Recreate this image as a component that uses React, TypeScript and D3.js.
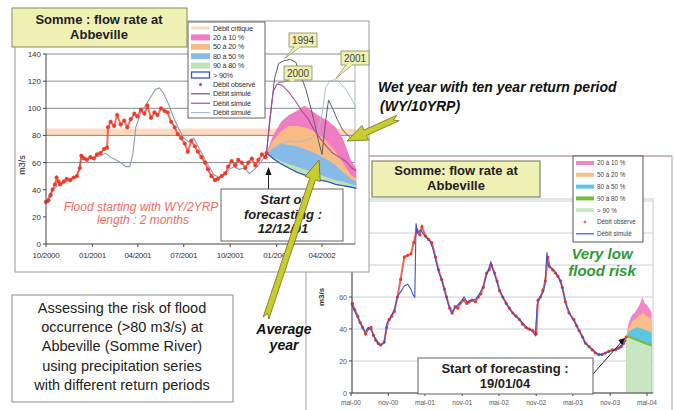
import React from 'react';
import * as d3 from 'd3';

const FONT = '"Liberation Sans", Arial, Helvetica, sans-serif';
const parse = d3.timeParse('%Y-%m-%d');

// ---------------- Left chart data ----------------
const leftXTicks = ['2000-10-01', '2001-01-01', '2001-04-01', '2001-07-01', '2001-10-01', '2002-01-01', '2002-04-01'];
const leftXLabels = ['10/2000', '01/2001', '04/2001', '07/2001', '10/2001', '01/2002', '04/2002'];
const leftYTicks = [0, 20, 40, 60, 80, 100, 120, 140];
const leftGrid = [60, 80, 100, 120, 140];
const criticalLow = 80;
const criticalHigh = 85;

const leftObsDates = [
  '2000-10-01', '2000-10-06', '2000-10-10', '2000-10-14', '2000-10-19', '2000-10-22', '2000-10-26', '2000-10-29',
  '2000-11-05', '2000-11-11', '2000-11-18', '2000-11-25', '2000-12-01', '2000-12-07', '2000-12-10', '2000-12-15',
  '2000-12-21', '2000-12-28', '2001-01-04', '2001-01-10', '2001-01-17', '2001-01-24', '2001-01-30', '2001-02-01',
  '2001-02-06', '2001-02-13', '2001-02-19', '2001-02-26', '2001-03-05', '2001-03-11', '2001-03-18', '2001-03-25',
  '2001-03-31', '2001-04-07', '2001-04-14', '2001-04-20', '2001-04-27', '2001-05-04', '2001-05-10', '2001-05-17',
  '2001-05-24', '2001-05-30', '2001-06-06', '2001-06-13', '2001-06-19', '2001-06-26', '2001-07-03', '2001-07-09',
  '2001-07-16', '2001-07-23', '2001-07-29', '2001-08-05', '2001-08-12', '2001-08-18', '2001-08-25', '2001-09-01',
  '2001-09-07', '2001-09-14', '2001-09-21', '2001-09-27', '2001-10-04', '2001-10-11', '2001-10-17', '2001-10-24',
  '2001-10-31', '2001-11-06', '2001-11-13', '2001-11-20', '2001-11-26', '2001-12-03', '2001-12-10', '2001-12-12',
];
const leftObsValues = [
  31, 32, 36, 40, 44, 49, 46, 44,
  46, 48, 47, 49, 50, 56, 65, 63,
  62, 64, 63, 66, 67, 70, 71, 86,
  90, 87, 95, 88, 91, 86, 92, 96,
  94, 99, 96, 102, 93, 97, 95, 100,
  98, 97, 90, 86, 81, 78, 74, 68,
  76, 72, 68, 64, 60, 55, 50, 47,
  48, 50, 52, 57, 61, 58, 62, 60,
  56, 60, 63, 58, 62, 66, 64, 67,
];

const leftSimDates = [
  '2000-10-01', '2000-10-11', '2000-10-21', '2000-10-31', '2000-11-10', '2000-11-20', '2000-11-30', '2000-12-06',
  '2000-12-10', '2000-12-20', '2001-01-04', '2001-01-17', '2001-01-27', '2001-02-06', '2001-02-16', '2001-02-26',
  '2001-03-08', '2001-03-16', '2001-03-22', '2001-03-28', '2001-04-06', '2001-04-16', '2001-04-26', '2001-05-06',
  '2001-05-14', '2001-05-22', '2001-06-01', '2001-06-11', '2001-06-21', '2001-07-01', '2001-07-11', '2001-07-21',
  '2001-07-31', '2001-08-10', '2001-08-20', '2001-08-30', '2001-09-09', '2001-09-19', '2001-09-29', '2001-10-09',
  '2001-10-19', '2001-10-29', '2001-11-08', '2001-11-18', '2001-11-28', '2001-12-06', '2001-12-12',
];
const leftSimValues = [
  31, 38, 42, 44, 46, 48, 50, 55,
  66, 63, 64, 65, 67, 64, 62, 60,
  57, 57, 66, 86, 96, 102, 108, 114,
  115, 111, 103, 93, 85, 78, 75, 78,
  71, 64, 57, 51, 49, 51, 55, 57,
  55, 56, 52, 55, 59, 63, 67,
];

// forecast (from 12/12/01)
const leftFcDates = [
  '2001-12-12', '2001-12-25', '2002-01-10', '2002-01-25', '2002-02-10', '2002-02-25', '2002-03-12',
  '2002-03-28', '2002-04-12', '2002-04-28', '2002-05-12', '2002-05-28', '2002-06-08',
];
const leftLow = [67, 63, 59, 56, 53, 51, 49, 47, 46, 44, 43, 42, 41];
const leftQ80 = [67, 64, 61, 59, 57, 55, 53, 51, 49, 47, 46, 44, 43];
const leftQ50 = [67, 71, 74, 73, 72, 70, 68, 65, 62, 58, 53, 48, 46];
const leftQ20 = [67, 76, 83, 87, 87, 86, 84, 80, 75, 68, 60, 51, 48];
const leftQ10 = [67, 80, 90, 95, 98, 102, 98, 94, 91, 86, 78, 62, 55];

const y1994Dates = [
  '2001-12-12', '2001-12-20', '2001-12-28', '2002-01-05', '2002-01-15', '2002-01-28', '2002-02-08', '2002-02-18',
  '2002-02-28', '2002-03-10', '2002-03-18', '2002-03-25', '2002-04-01', '2002-04-08', '2002-04-14', '2002-04-22',
  '2002-05-01', '2002-05-12', '2002-05-25', '2002-06-05',
];
const y1994Values = [67, 95, 122, 133, 135, 136, 134, 124, 114, 100, 88, 76, 66, 90, 106, 100, 92, 84, 79, 76];

const y2000Dates = [
  '2001-12-12', '2001-12-18', '2001-12-25', '2002-01-02', '2002-01-12', '2002-01-25', '2002-02-08', '2002-02-20',
  '2002-03-05', '2002-03-15', '2002-03-28', '2002-04-10', '2002-04-22', '2002-05-05', '2002-05-18', '2002-05-30', '2002-06-08',
];
const y2000Values = [67, 90, 112, 118, 117, 112, 105, 98, 92, 85, 78, 72, 67, 64, 61, 56, 54];

const y2001Dates = [
  '2001-12-12', '2001-12-25', '2002-01-10', '2002-01-25', '2002-02-10', '2002-02-25', '2002-03-12', '2002-03-22',
  '2002-04-01', '2002-04-08', '2002-04-16', '2002-04-26', '2002-05-06', '2002-05-18', '2002-05-28', '2002-06-08',
];
const y2001Values = [67, 70, 74, 76, 75, 76, 78, 82, 95, 115, 120, 121, 119, 114, 108, 100];

const leftLegendLabels = [
  'Débit critique', '20 à 10 %', '50 à 20 %', '80 à 50 %', '90 à 80 %', '> 90%',
  'Débit observé', 'Débit simulé', 'Débit simulé', 'Débit simulé',
];
const callouts = [
  { label: '1994', date: '2002-01-15', value: 136 },
  { label: '2000', date: '2002-01-02', value: 118 },
  { label: '2001', date: '2002-04-26', value: 121 },
];

// ---------------- Right chart data ----------------
const rightXTicks = [
  '2000-05-01', '2000-11-01', '2001-05-01', '2001-11-01', '2002-05-01',
  '2002-11-01', '2003-05-01', '2003-11-01', '2004-05-01',
];
const rightXLabels = ['mai-00', 'nov-00', 'mai-01', 'nov-01', 'mai-02', 'nov-02', 'mai-03', 'nov-03', 'mai-04'];
const rightYTicks = [0, 20, 40, 60, 80, 100, 120];

const rightObsDates = [
  '2000-05-08', '2000-05-20', '2000-06-03', '2000-06-15', '2000-06-27', '2000-07-12', '2000-07-25', '2000-08-07',
  '2000-08-20', '2000-09-01', '2000-09-13', '2000-09-25', '2000-10-12', '2000-10-24', '2000-11-06', '2000-11-18',
  '2000-12-01', '2000-12-16', '2001-01-01', '2001-01-19', '2001-02-04', '2001-02-21', '2001-03-07', '2001-03-22',
  '2001-04-05', '2001-04-16', '2001-05-04', '2001-05-19', '2001-06-04', '2001-06-22', '2001-07-07', '2001-07-22',
  '2001-08-05', '2001-08-16', '2001-09-01', '2001-09-12', '2001-09-27', '2001-10-10', '2001-10-22', '2001-11-08',
  '2001-11-24', '2001-12-06', '2001-12-19', '2002-01-05', '2002-01-19', '2002-02-01', '2002-02-13', '2002-03-01',
  '2002-03-14', '2002-03-25', '2002-04-10', '2002-04-22', '2002-05-04', '2002-05-20', '2002-06-06', '2002-06-22',
  '2002-07-09', '2002-07-25', '2002-08-10', '2002-08-26', '2002-09-12', '2002-09-28', '2002-10-15', '2002-11-01',
  '2002-11-10', '2002-11-22', '2002-12-04', '2002-12-16', '2002-12-28', '2003-01-06', '2003-01-22', '2003-02-04',
  '2003-02-16', '2003-03-01', '2003-03-10', '2003-03-25', '2003-04-12', '2003-05-06', '2003-05-20', '2003-06-01',
  '2003-06-18', '2003-07-04', '2003-07-20', '2003-08-04', '2003-08-20', '2003-09-06', '2003-09-22', '2003-10-09',
  '2003-10-25', '2003-11-12', '2003-11-28', '2003-12-13', '2003-12-26', '2004-01-07', '2004-01-19',
];
const rightObsValues = [
  56, 52, 48, 44, 41, 37, 40, 41,
  36, 33, 31, 30, 32, 41, 46, 48,
  51, 60, 71, 85, 86, 87, 94, 102,
  99, 104, 98, 96, 94, 85, 77, 71,
  65, 60, 53, 50, 54, 53, 56, 58,
  56, 57, 58, 57, 60, 62, 66, 75,
  77, 80, 75, 70, 64, 60, 56, 53,
  50, 48, 46, 43, 41, 40, 39, 37,
  58, 60, 64, 70, 85, 79, 77, 75,
  73, 70, 66, 57, 50, 46, 42, 39,
  35, 31, 29, 27, 25, 24, 24, 25,
  26, 27, 27, 28, 29, 31, 35,
];

const rightSimDates = [
  '2000-05-01', '2000-05-20', '2000-06-15', '2000-07-10', '2000-07-25', '2000-08-10', '2000-09-01', '2000-09-20',
  '2000-10-12', '2000-10-26', '2000-11-15', '2000-12-01', '2000-12-16', '2001-01-05', '2001-01-20', '2001-02-05',
  '2001-02-20', '2001-03-05', '2001-03-12', '2001-03-18', '2001-03-25', '2001-04-10', '2001-04-25', '2001-05-10',
  '2001-05-25', '2001-06-10', '2001-06-25', '2001-07-10', '2001-07-25', '2001-08-10', '2001-08-25', '2001-09-10',
  '2001-09-25', '2001-10-10', '2001-10-25', '2001-11-10', '2001-11-25', '2001-12-10', '2001-12-25', '2002-01-10',
  '2002-01-25', '2002-02-10', '2002-02-25', '2002-03-10', '2002-03-22', '2002-04-05', '2002-04-20', '2002-05-05',
  '2002-05-20', '2002-06-10', '2002-07-01', '2002-07-20', '2002-08-10', '2002-09-01', '2002-09-20', '2002-10-10',
  '2002-10-28', '2002-11-06', '2002-11-20', '2002-12-05', '2002-12-15', '2002-12-24', '2002-12-30', '2003-01-15',
  '2003-02-01', '2003-02-15', '2003-03-01', '2003-03-15', '2003-04-01', '2003-04-15', '2003-05-01', '2003-05-20',
  '2003-06-10', '2003-07-01', '2003-07-20', '2003-08-10', '2003-09-01', '2003-09-20', '2003-10-10', '2003-11-01',
  '2003-11-20', '2003-12-10', '2003-12-30', '2004-01-19',
];
const rightSimValues = [
  56, 51, 44, 38, 41, 39, 33, 30,
  31, 44, 48, 52, 60, 64, 67, 68,
  65, 61, 60, 106, 100, 102, 99, 97,
  95, 90, 82, 75, 70, 62, 55, 50,
  53, 55, 57, 60, 57, 58, 58, 59,
  62, 66, 72, 77, 82, 76, 70, 64,
  60, 55, 51, 48, 46, 43, 40, 39,
  36, 55, 60, 63, 68, 88, 80, 78,
  76, 73, 70, 63, 54, 50, 46, 42,
  37, 31, 29, 27, 24, 24, 25, 26,
  27, 28, 30, 33,
];

// forecast (from 19/01/04)
const rightFcDates = [
  '2004-01-19', '2004-01-30', '2004-02-10', '2004-02-20', '2004-03-01', '2004-03-10', '2004-03-20',
  '2004-04-01', '2004-04-10', '2004-04-20', '2004-05-01', '2004-05-12', '2004-05-24',
];
const rightLow = [35, 34.5, 34, 33.5, 33, 32.5, 32, 31.5, 31, 30.5, 30, 29.5, 29];
const rightQ80 = [35, 36, 35.5, 35, 34.5, 34, 33.5, 33, 32.5, 32, 31.5, 31, 30.5];
const rightQ50 = [35, 38, 39, 40, 40.5, 41, 41, 40.5, 40, 39.5, 39, 38.5, 38];
const rightQ20 = [35, 40, 43, 45, 46, 47, 48, 49, 50, 49, 48, 47, 46];
const rightQ10 = [35, 43, 47, 49, 50, 52, 54, 57, 60, 56, 55, 53, 50];

const rightLegendLabels = ['20 à 10 %', '50 à 20 %', '80 à 50 %', '90 à 80 %', '> 90 %', 'Débit observé', 'Débit simulé'];

const summaryLines = [
  'Assessing the risk of flood',
  'occurrence (>80 m3/s) at',
  'Abbeville (Somme River)',
  'using precipitation series',
  'with different return periods',
];

// ---------------- colours ----------------
const C = {
  pink: '#f07cc4',
  orange: '#f9bb84',
  blue: '#86bbe8',
  green: '#bfe2b4',
  low: '#3355c4',
  crit: '#fcd9bd',
  obs: '#ee3322',
  sim1994: '#5a6068',
  sim2000: '#a44c9c',
  sim2001: '#a9bdd2',
  simHist: '#8a9cb4',
  rPink: '#f287c6',
  rOrange: '#f8c088',
  rCyan: '#5cc6e2',
  rGreen: '#74bc3e',
  rLight: '#c9e6c2',
  rSim: '#3a55c8',
  titleFill: '#eef0b4',
  arrowFill: '#c9cc2e',
};

const zip = (dates: string[], vals: number[]) => dates.map((d, i) => ({ d: parse(d) as Date, v: vals[i] }));

function Arrow({ x1, y1, x2, y2 }: { x1: number; y1: number; x2: number; y2: number }) {
  const dx = x2 - x1, dy = y2 - y1;
  const L = Math.hypot(dx, dy);
  const ux = dx / L, uy = dy / L;
  const nx = -uy, ny = ux;
  const sw = 3, hw = 8, hl = 20;
  const bx = x2 - ux * hl, by = y2 - uy * hl;
  const pts = [
    [x1 + nx * sw, y1 + ny * sw],
    [x1 + ux * 5, y1 + uy * 5],
    [x1 - nx * sw, y1 - ny * sw],
    [bx - nx * sw, by - ny * sw],
    [bx - nx * hw, by - ny * hw],
    [x2, y2],
    [bx + nx * hw, by + ny * hw],
    [bx + nx * sw, by + ny * sw],
  ];
  return (
    <polygon
      points={pts.map((p) => p.join(',')).join(' ')}
      fill={C.arrowFill}
      stroke="#6e6e1c"
      strokeWidth={0.8}
      strokeLinejoin="round"
    />
  );
}

function LeftChart() {
  const x = d3.scaleTime().domain([parse('2000-10-01') as Date, parse('2002-04-01') as Date]).range([46, 322]);
  const y = d3.scaleLinear().domain([0, 140]).range([244, 54]);
  const L = 46, R = 355, T = 54, B = 244;

  const obs = zip(leftObsDates, leftObsValues);
  const sim = zip(leftSimDates, leftSimValues);
  const fcd = leftFcDates.map((d) => parse(d) as Date);
  const area = (top: number[], bot: number[]) =>
    d3.area<number>().x((_, i) => x(fcd[i])).y0((_, i) => y(bot[i])).y1((v) => y(v))(top) || '';
  const line = d3.line<{ d: Date; v: number }>().x((p) => x(p.d)).y((p) => y(p.v));
  const lowLine = d3.line<number>().x((_, i) => x(fcd[i])).y((v) => y(v))(leftLow) || '';

  const fcStart = x(parse('2001-12-12') as Date);

  return (
    <g>
      <rect x={15} y={21} width={354} height={251} fill="#fff" stroke="#9a9a9a" strokeWidth={1} />
      <rect x={L} y={T} width={R - L} height={B - T} fill="#fff" />
      <rect x={L} y={y(criticalHigh)} width={R - L} height={y(criticalLow) - y(criticalHigh)} fill={C.crit} />
      {leftGrid.map((g) => (
        <line key={g} x1={L} x2={R} y1={y(g)} y2={y(g)} stroke="#7c8088" strokeWidth={0.9} />
      ))}
      <line x1={R} x2={R} y1={T} y2={B} stroke="#a8b4c0" strokeWidth={1} />
      {/* forecast bands */}
      <path d={area(leftQ10, leftLow)} fill={C.pink} />
      <path d={area(leftQ20, leftLow)} fill={C.orange} />
      <path d={area(leftQ50, leftLow)} fill={C.blue} />
      <path d={area(leftQ80, leftLow)} fill={C.green} />
      <path d={lowLine} fill="none" stroke={C.low} strokeWidth={1.3} />
      {/* simulated years */}
      <path d={line(zip(y2001Dates, y2001Values)) || ''} fill="none" stroke={C.sim2001} strokeWidth={1} />
      <path d={line(zip(y1994Dates, y1994Values)) || ''} fill="none" stroke={C.sim1994} strokeWidth={1} />
      <path d={line(zip(y2000Dates, y2000Values)) || ''} fill="none" stroke={C.sim2000} strokeWidth={1.1} />
      {/* historical */}
      <path d={line(sim) || ''} fill="none" stroke={C.simHist} strokeWidth={1.1} />
      <path d={line(obs) || ''} fill="none" stroke={C.obs} strokeWidth={2} opacity={0.7} />
      {obs.map((p, i) => (
        <circle key={i} cx={x(p.d)} cy={y(p.v)} r={2.1} fill={C.obs} opacity={0.9} />
      ))}
      {/* axes */}
      <line x1={L} x2={L} y1={T} y2={B} stroke="#444" strokeWidth={1} />
      <line x1={L} x2={R} y1={B} y2={B} stroke="#444" strokeWidth={1} />
      {leftYTicks.map((t) => (
        <g key={t}>
          <line x1={L - 3} x2={L} y1={y(t)} y2={y(t)} stroke="#444" />
          <text x={L - 5} y={y(t) + 3} fontSize={8} textAnchor="end" fill="#333" fontFamily={FONT}>
            {t}
          </text>
        </g>
      ))}
      {leftXTicks.map((t, i) => (
        <g key={t}>
          <line x1={x(parse(t) as Date)} x2={x(parse(t) as Date)} y1={B} y2={B + 3} stroke="#444" />
          <text x={x(parse(t) as Date)} y={258} fontSize={8} textAnchor="middle" fill="#333" fontFamily={FONT} letterSpacing={-0.3}>
            {leftXLabels[i]}
          </text>
        </g>
      ))}
      <text transform="translate(25,165) rotate(-90)" fontSize={9} textAnchor="middle" fill="#222" fontFamily={FONT}>
        m3/s
      </text>
      <text x={141} y={211} fontSize={12} fontStyle="italic" textAnchor="middle" fill="#f06a5e" fontFamily={FONT}>
        Flood starting with WY/2YRP
      </text>
      <text x={143} y={224} fontSize={12} fontStyle="italic" textAnchor="middle" fill="#f06a5e" fontFamily={FONT}>
        length : 2 months
      </text>
      {/* legend */}
      <rect x={188} y={22} width={77} height={96} fill="#fff" stroke="#555" strokeWidth={0.9} />
      {leftLegendLabels.map((lab, i) => {
        const cy = 28 + i * 9.4;
        let sw: React.ReactNode = null;
        if (i === 0) sw = <line x1={191} x2={210} y1={cy} y2={cy} stroke={C.crit} strokeWidth={3} />;
        else if (i <= 4) {
          const col = [C.pink, C.orange, C.blue, C.green][i - 1];
          sw = <rect x={191} y={cy - 3} width={19} height={6} fill={col} />;
        } else if (i === 5) sw = <rect x={191.5} y={cy - 3} width={18} height={6} fill="#fff" stroke={C.low} strokeWidth={1.3} />;
        else if (i === 6) sw = <circle cx={200.5} cy={cy} r={1.5} fill={C.obs} />;
        else {
          const col = [C.sim1994, C.sim2000, C.sim2001][i - 7];
          sw = <line x1={191} x2={210} y1={cy} y2={cy} stroke={col} strokeWidth={1.2} />;
        }
        return (
          <g key={i}>
            {sw}
            <text x={213} y={cy + 2.6} fontSize={7.3} fill="#333" fontFamily={FONT} letterSpacing={-0.2}>
              {lab}
            </text>
          </g>
        );
      })}
      {/* callouts */}
      {callouts.map((c) => {
        const boxes: Record<string, { bx: number; by: number }> = {
          '1994': { bx: 289, by: 33 },
          '2000': { bx: 284, by: 66 },
          '2001': { bx: 341, by: 51 },
        };
        const b = boxes[c.label];
        const px = x(parse(c.date) as Date);
        const py = y(c.value);
        return (
          <g key={c.label}>
            <path
              d={`M${b.bx + 5},${b.by + 14} L${px + 1},${py - 1} L${b.bx + 11},${b.by + 14} Z`}
              fill={C.titleFill}
              stroke="#888866"
              strokeWidth={0.7}
            />
            <rect x={b.bx} y={b.by} width={28} height={14} fill={C.titleFill} stroke="#888866" strokeWidth={0.8} />
            <rect x={b.bx + 5.5} y={b.by + 13} width={5} height={2} fill={C.titleFill} />
            <text x={b.bx + 14} y={b.by + 10.5} fontSize={10} textAnchor="middle" fill="#444" fontFamily={FONT}>
              {c.label}
            </text>
          </g>
        );
      })}
      {/* start of forecasting */}
      <line x1={fcStart + 2} x2={fcStart + 2} y1={189} y2={172} stroke="#223" strokeWidth={1} />
      <path d={`M${fcStart + 2},${167} L${fcStart - 1},${175} L${fcStart + 5},${175} Z`} fill="#111" />
      <rect x={221} y={189} width={122} height={52} fill="#fff" stroke="#666" strokeWidth={1} />
      {['Start of', 'forecasting :', '12/12/01'].map((t, i) => (
        <text key={t} x={283} y={204 + i * 14.5} fontSize={13} fontWeight="bold" fontStyle="italic" textAnchor="middle" fill="#222" fontFamily={FONT}>
          {t}
        </text>
      ))}
      {/* title */}
      <rect x={12} y={8} width={175} height={39} fill={C.titleFill} stroke="#8a8a5c" strokeWidth={1} />
      <text x={99} y={24} fontSize={13} fontWeight="bold" textAnchor="middle" fill="#222" fontFamily={FONT}>
        Somme : flow rate at
      </text>
      <text x={99} y={39} fontSize={13} fontWeight="bold" textAnchor="middle" fill="#222" fontFamily={FONT}>
        Abbeville
      </text>
    </g>
  );
}

function RightChart() {
  const x = d3.scaleTime().domain([parse('2000-05-01') as Date, parse('2004-05-01') as Date]).range([351, 647]);
  const y = d3.scaleLinear().domain([0, 120]).range([393, 201]);
  const L = 352, R = 653, T = 199, B = 393;

  const obs = zip(rightObsDates, rightObsValues);
  const sim = zip(rightSimDates, rightSimValues);
  const fcd = rightFcDates.map((d) => parse(d) as Date);
  const area = (top: number[]) =>
    d3.area<number>().x((_, i) => x(fcd[i])).y0(() => y(0)).y1((v) => y(v))(top) || '';
  const line = d3.line<{ d: Date; v: number }>().x((p) => x(p.d)).y((p) => y(p.v));

  const fcX = x(parse('2004-01-19') as Date);

  return (
    <g>
      <rect x={306} y={156} width={366} height={258} fill="#fff" stroke="#a4a4a4" strokeWidth={1} />
      <line x1={306} x2={672} y1={156} y2={156} stroke="#d89a9a" strokeWidth={1} />
      <rect x={L} y={T} width={R - L} height={B - T} fill="#fff" stroke="#c4ccd6" strokeWidth={1} />
      {rightYTicks.slice(1).map((t) => (
        <line key={t} x1={L} x2={R} y1={y(t)} y2={y(t)} stroke="#c8d0da" strokeWidth={1} />
      ))}
      <path d={area(rightQ10)} fill={C.rPink} />
      <path d={area(rightQ20)} fill={C.rOrange} />
      <path d={area(rightQ50)} fill={C.rCyan} />
      <path d={area(rightQ80)} fill={C.rGreen} />
      <path d={area(rightLow)} fill={C.rLight} />
      <path d={line(obs) || ''} fill="none" stroke={C.obs} strokeWidth={2} opacity={0.75} />
      {obs.map((p, i) => (
        <circle key={i} cx={x(p.d)} cy={y(p.v)} r={1.6} fill={C.obs} opacity={0.9} />
      ))}
      <path d={line(sim) || ''} fill="none" stroke={C.rSim} strokeWidth={1.1} />
      <line x1={L} x2={L} y1={T} y2={B} stroke="#444" />
      <line x1={L} x2={R} y1={B} y2={B} stroke="#444" />
      {rightYTicks.map((t) => (
        <g key={t}>
          <line x1={L - 3} x2={L} y1={y(t)} y2={y(t)} stroke="#444" />
          <text x={L - 5} y={y(t) + 2.5} fontSize={7} textAnchor="end" fill="#555" fontFamily={FONT}>
            {t}
          </text>
        </g>
      ))}
      {rightXTicks.map((t, i) => (
        <g key={t}>
          <line x1={x(parse(t) as Date)} x2={x(parse(t) as Date)} y1={B} y2={B + 3} stroke="#444" />
          <text x={x(parse(t) as Date)} y={405} fontSize={6.5} textAnchor="middle" fill="#555" fontFamily={FONT}>
            {rightXLabels[i]}
          </text>
        </g>
      ))}
      <text transform="translate(324,297) rotate(-90)" fontSize={8} fontWeight="bold" textAnchor="middle" fill="#333" fontFamily={FONT}>
        m3/s
      </text>
      <rect x={372} y={161} width={168} height={36} fill={C.titleFill} stroke="#6f6f4a" strokeWidth={1} />
      <text x={456} y={175} fontSize={13} fontWeight="bold" textAnchor="middle" fill="#222" fontFamily={FONT}>
        Somme: flow rate at
      </text>
      <text x={456} y={190} fontSize={13} fontWeight="bold" textAnchor="middle" fill="#222" fontFamily={FONT}>
        Abbeville
      </text>
      <rect x={573} y={156} width={70} height={86} fill="#fff" stroke="#555" strokeWidth={1} />
      {rightLegendLabels.map((lab, i) => {
        const cy = 163 + i * 11.8;
        let sw: React.ReactNode;
        if (i <= 4) {
          const col = [C.rPink, C.rOrange, C.rCyan, C.rGreen, C.rLight][i];
          sw = <line x1={576} x2={594} y1={cy} y2={cy} stroke={col} strokeWidth={4} />;
        } else if (i === 5) sw = <circle cx={585} cy={cy} r={1.4} fill={C.obs} opacity={0.7} />;
        else sw = <line x1={576} x2={594} y1={cy} y2={cy} stroke={C.rSim} strokeWidth={1.2} />;
        return (
          <g key={i}>
            {sw}
            <text x={597} y={cy + 2.3} fontSize={6.3} fill="#444" fontFamily={FONT}>
              {lab}
            </text>
          </g>
        );
      })}
      <text x={602} y={259} fontSize={15} fontWeight="bold" fontStyle="italic" textAnchor="middle" fill="#2e9a36" fontFamily={FONT}>
        Very low
      </text>
      <text x={602} y={276} fontSize={15} fontWeight="bold" fontStyle="italic" textAnchor="middle" fill="#2e9a36" fontFamily={FONT}>
        flood risk
      </text>
      <line x1={593} y1={374} x2={fcX - 3} y2={y(35) + 3} stroke="#222" strokeWidth={1} />
      <path d={`M${fcX - 1},${y(35) + 1} l-7,2 l4,5 Z`} fill="#111" />
      <rect x={418} y={358} width={175} height={36} fill="#fff" stroke="#606060" strokeWidth={1} />
      <text x={505} y={373} fontSize={13} fontWeight="bold" textAnchor="middle" fill="#222" fontFamily={FONT}>
        Start of forecasting :
      </text>
      <text x={505} y={388} fontSize={13} fontWeight="bold" textAnchor="middle" fill="#222" fontFamily={FONT}>
        19/01/04
      </text>
    </g>
  );
}

export default function App() {
  return (
    <svg
      width={675}
      height={410}
      viewBox="0 0 675 410"
      style={{ position: 'absolute', left: 0, top: 0, background: '#fff' }}
      xmlns="http://www.w3.org/2000/svg"
    >
      <rect x={0} y={0} width={675} height={410} fill="#fff" />
      <RightChart />
      <LeftChart />
      <rect x={12} y={295} width={221} height={107} fill="#fff" stroke="#8a8a8a" strokeWidth={1} />
      {summaryLines.map((t, i) => (
        <text key={t} x={122} y={313 + i * 19.2} fontSize={14.5} textAnchor="middle" fill="#222" fontFamily={FONT}>
          {t}
        </text>
      ))}
      <Arrow x1={266} y1={318} x2={319} y2={160} />
      <Arrow x1={398} y1={118} x2={347} y2={141} />
      <text x={378} y={92} fontSize={14} fontWeight="bold" fontStyle="italic" fill="#111" fontFamily={FONT}>
        Wet year with ten year return period
      </text>
      <text x={380} y={111} fontSize={14} fontWeight="bold" fontStyle="italic" fill="#111" fontFamily={FONT}>
        (WY/10YRP)
      </text>
      <text x={284} y={334} fontSize={14} fontWeight="bold" fontStyle="italic" textAnchor="middle" fill="#111" fontFamily={FONT}>
        Average
      </text>
      <text x={284} y={350} fontSize={14} fontWeight="bold" fontStyle="italic" textAnchor="middle" fill="#111" fontFamily={FONT}>
        year
      </text>
    </svg>
  );
}
